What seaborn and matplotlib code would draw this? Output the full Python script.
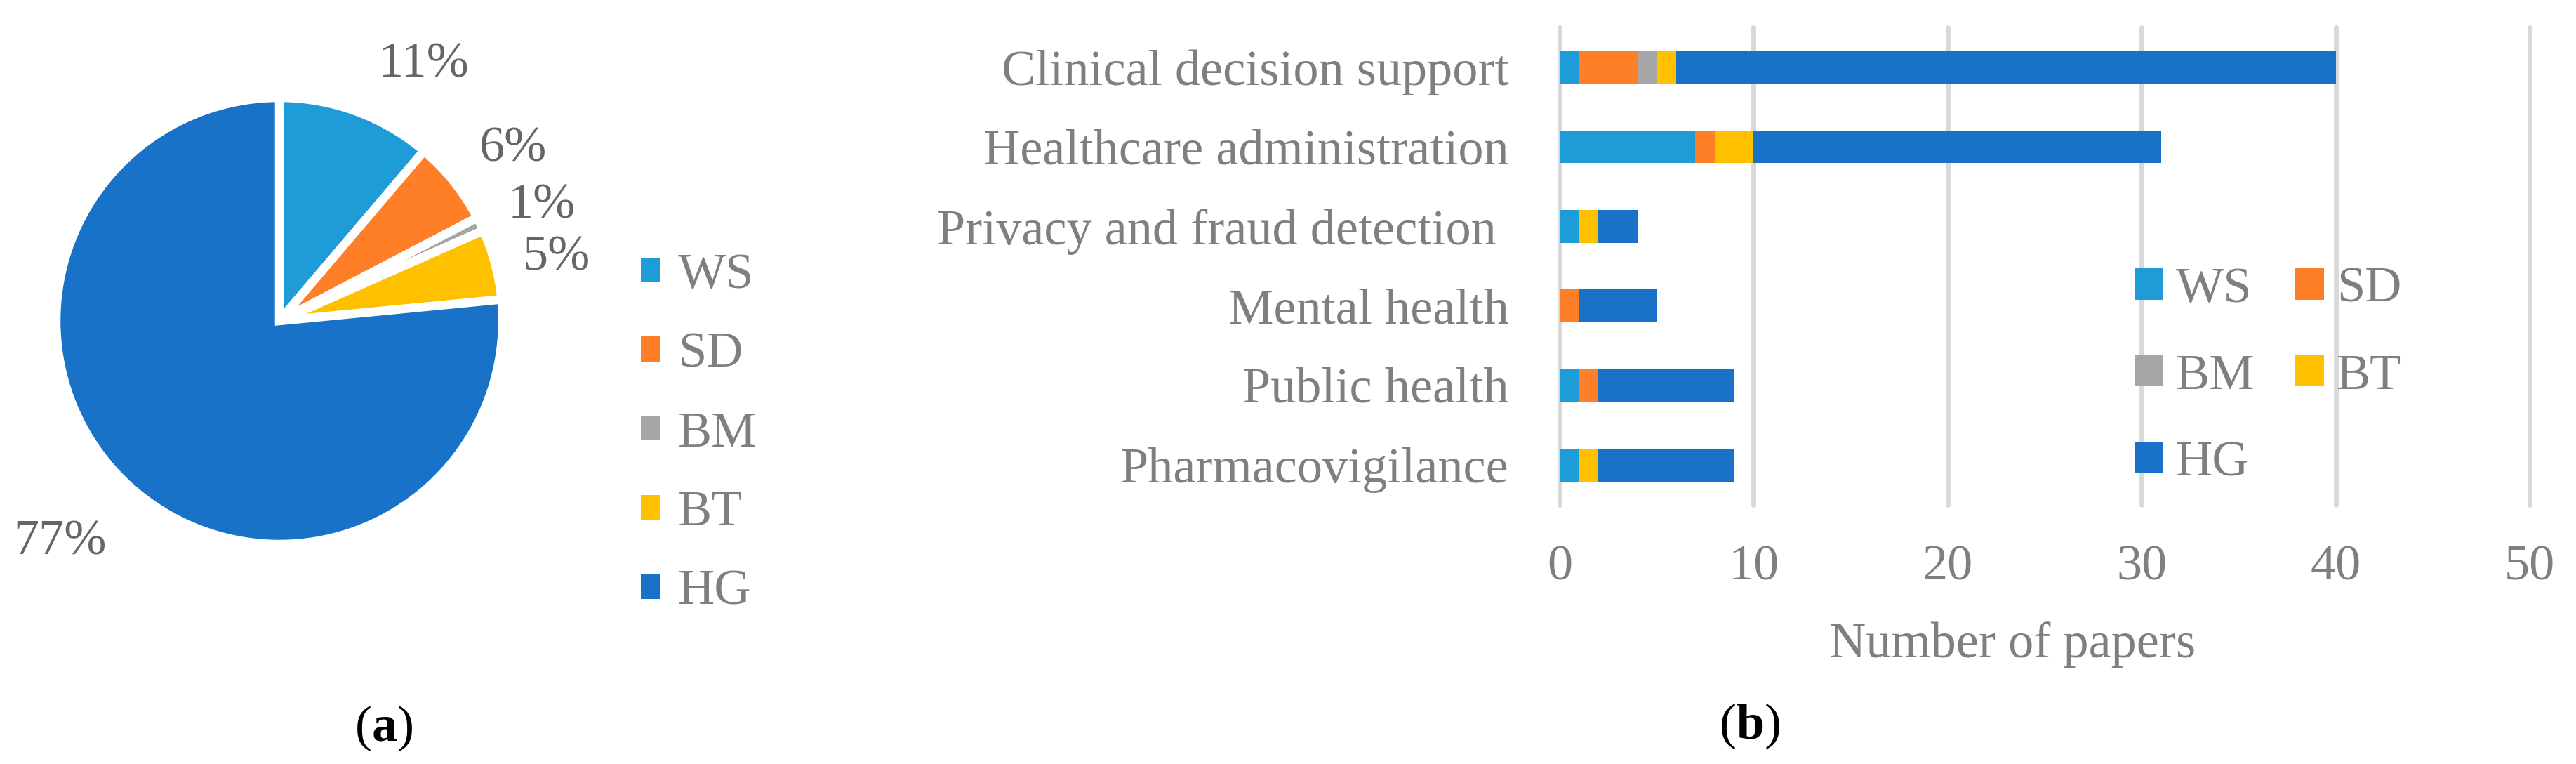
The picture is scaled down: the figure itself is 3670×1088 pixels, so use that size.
import numpy as np
import matplotlib
matplotlib.use("Agg")
import matplotlib.pyplot as plt
from matplotlib.patches import Patch
import seaborn as sns

# --- data ---
METHODS = ["WS", "SD", "BM", "BT", "HG"]
COLORS = ["#1E9CD8", "#FE7F27", "#A6A6A6", "#FFC000", "#1873C8"]

CATEGORIES = [
    "Clinical decision support",
    "Healthcare administration",
    "Privacy and fraud detection ",
    "Mental health",
    "Public health",
    "Pharmacovigilance",
]
WS = [1, 7, 1, 0, 1, 1]
SD = [3, 1, 0, 1, 1, 0]
BM = [1, 0, 0, 0, 0, 0]
BT = [1, 2, 1, 0, 0, 1]
HG = [34, 21, 2, 4, 7, 7]
X_TICKS = [0, 10, 20, 30, 40, 50]

# label placement around the pie (data units, radius = 1)
PCT_POS = [(0.645, 1.148), (1.047, 0.770), (1.176, 0.516), (1.242, 0.283), (-0.984, -0.991)]

W, H = 3670, 1088
FS = 52
GREY_TXT = "#7F7F7F"
PCT_TXT = "#666666"

sns.set_theme(style="white")
plt.rcParams["font.family"] = ["Liberation Serif", "DejaVu Serif"]
plt.rcParams["mathtext.fontset"] = "custom"
plt.rcParams["mathtext.rm"] = "Liberation Serif"
plt.rcParams["mathtext.bf"] = "Liberation Serif:bold"

fig = plt.figure(figsize=(W / 100, H / 100), dpi=100)

# --- (a) pie ---
counts = np.array([sum(WS), sum(SD), sum(BM), sum(BT), sum(HG)])
cx, cy, r = 398, 457, 318
ax_pie = fig.add_axes([(cx - r) / W, 1 - (cy + r) / H, 2 * r / W, 2 * r / H])
ax_pie.pie(
    counts, colors=COLORS, startangle=90, counterclock=False, radius=1,
    wedgeprops=dict(edgecolor="white", linewidth=9),
)
ax_pie.set_xlim(-1, 1)
ax_pie.set_ylim(-1, 1)
ax_pie.set_aspect("equal")
pcts = counts / counts.sum() * 100
for p, (tx, ty) in zip(pcts, PCT_POS):
    ax_pie.text(tx, ty, f"{p:.0f}%", ha="center", va="center",
                fontsize=FS, color=PCT_TXT, clip_on=False)

handles = [Patch(facecolor=c, edgecolor="none", label=m) for m, c in zip(METHODS, COLORS)]
fig.legend(
    handles=handles, loc="center left",
    bbox_to_anchor=(913 / W, 1 - 618 / H), bbox_transform=fig.transFigure,
    frameon=False, fontsize=FS, labelcolor=GREY_TXT,
    handlelength=0.38, handleheight=0.38, handletextpad=0.35,
    labelspacing=0.66, borderpad=0, borderaxespad=0,
)

# --- (b) stacked bars ---
x0, x1, y0, y1 = 2222, 3604, 39, 719
ax = fig.add_axes([x0 / W, 1 - y1 / H, (x1 - x0) / W, (y1 - y0) / H])
series = [WS, SD, BM, BT, HG]
cum = np.cumsum(np.array(series), axis=0)
# draw longest cumulative first so shorter ones sit on top
for i in range(len(METHODS) - 1, -1, -1):
    sns.barplot(x=cum[i], y=CATEGORIES, order=CATEGORIES, orient="h",
                color=COLORS[i], saturation=1, width=0.41, linewidth=0, ax=ax)

ax.set_xlim(0, 50)
ax.set_ylim(len(CATEGORIES) - 0.5, -0.5)
ax.set_xticks(X_TICKS)
ax.set_axisbelow(True)
ax.grid(axis="x", color="#D9D9D9", linewidth=5)
ax.grid(axis="y", visible=False)
for gl in ax.get_xgridlines():
    gl.set_clip_on(False)
for s in ax.spines.values():
    s.set_visible(False)
ax.tick_params(axis="x", length=0, pad=41, labelsize=FS, labelcolor=GREY_TXT)
ax.tick_params(axis="y", length=0, pad=52, labelsize=FS, labelcolor=GREY_TXT)
ax.set_ylabel("")
ax.set_xlabel("Number of papers", fontsize=FS, color=GREY_TXT)
ax.xaxis.set_label_coords(0.467, -0.245)

order = [0, 2, 4, 1, 3]  # row-wise filling: WS SD / BM BT / HG
fig.legend(
    handles=[handles[i] for i in order], loc="center left", ncol=2,
    bbox_to_anchor=(3041 / W, 1 - 536 / H), bbox_transform=fig.transFigure,
    frameon=False, fontsize=FS, labelcolor=GREY_TXT,
    handlelength=0.57, handleheight=0.57, handletextpad=0.25,
    labelspacing=0.81, columnspacing=0.79, borderpad=0, borderaxespad=0,
)

# --- panel captions ---
fig.text(547 / W, 1 - 1037 / H, r"($\mathbf{a}$)", ha="center", va="center",
         fontsize=FS, color="black")
fig.text(2493 / W, 1 - 1034 / H, r"($\mathbf{b}$)", ha="center", va="center",
         fontsize=FS, color="black")

fig.savefig("out.png", dpi=100)
